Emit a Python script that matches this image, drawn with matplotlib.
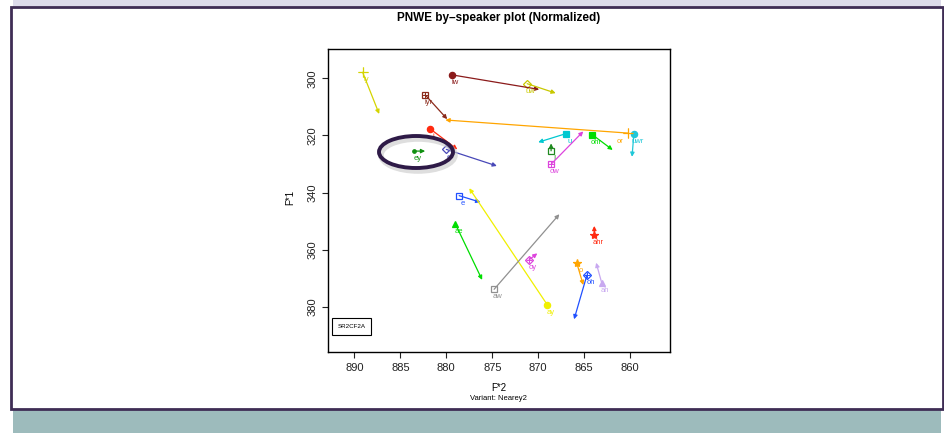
import matplotlib
matplotlib.use("Agg")
import matplotlib.pyplot as plt
from matplotlib.patches import Rectangle, Ellipse

plt.rcParams['font.family'] = ['Liberation Sans', 'DejaVu Sans']

# vowel means: start point (marker) and end point (arrow head)
vowels = ["iy", "iw", "uw", "iyr", "i", "er", "ey", "u", "ohr", "I", "ow", "uwr",
          "or", "e", "ae", "ay", "aw", "oy", "ahr", "o", "oh", "ah"]
f2_start = [889.1, 879.4, 871.2, 882.3, 881.8, 880.0, 883.5, 867.0, 864.1, 868.6, 868.6, 859.6,
            860.2, 878.6, 879.0, 869.0, 874.8, 871.0, 863.9, 865.8, 864.7, 863.1]
f1_start = [297.9, 298.8, 301.9, 305.8, 317.6, 324.9, 325.5, 319.4, 319.8, 325.4, 330.1, 319.6,
            319.2, 341.1, 351.1, 379.4, 373.9, 363.6, 354.9, 364.8, 368.9, 371.6]
f2_end = [887.3, 869.9, 868.1, 879.9, 878.8, 874.5, 882.3, 870.0, 861.9, 868.6, 865.1, 859.8,
          880.1, 876.3, 876.1, 877.5, 867.7, 870.1, 863.9, 865.1, 866.1, 863.7]
f1_end = [312.5, 303.9, 305.2, 314.3, 324.9, 330.7, 325.5, 322.4, 325.1, 322.8, 318.6, 327.5,
          314.6, 343.4, 370.6, 338.5, 347.6, 361.3, 351.7, 372.4, 384.4, 364.6]
x_ticks = [890, 885, 880, 875, 870, 865, 860]
y_ticks = [300, 320, 340, 360, 380]
speaker = "SR2CF2A"

# colour, marker, filled
style = {
    "iy": ("#d4d400", "+", True), "iw": ("#8b1a1a", "o", True), "uw": ("#c8c800", "D", False),
    "iyr": ("#8b2a1a", "s+", False), "i": ("#ff2a10", "o", True), "er": ("#4848b8", "D", False),
    "ey": ("#109010", ".", True), "u": ("#00c8d0", "s", True), "ohr": ("#00dd00", "s", True),
    "I": ("#208a20", "s", False), "ow": ("#dd44dd", "s+", False), "uwr": ("#20c8d8", "o", True),
    "or": ("#ffa500", "+", True), "e": ("#2050ff", "s", False), "ae": ("#00dd00", "^", True),
    "ay": ("#f0f000", "o", True), "aw": ("#909090", "s", False), "oy": ("#dd44dd", "D+", False),
    "ahr": ("#ff2a10", "*", True), "o": ("#ffa500", "*", True), "oh": ("#2050ff", "D+", False),
    "ah": ("#c8a8f0", "^", True),
}
label_offset = {"or": (-6, -6)}

W, H = 945, 443
fig = plt.figure(figsize=(W / 100, H / 100), dpi=100)


def fx(px):
    return px / W


def fy(py):
    return 1 - py / H


# page decoration
fig.patches.append(Rectangle((fx(13), fy(7)), fx(928), 7 / H, transform=fig.transFigure,
                             facecolor="#dddbeb", edgecolor="none", zorder=0))
fig.patches.append(Rectangle((fx(13), fy(433)), fx(928), 24 / H, transform=fig.transFigure,
                             facecolor="#9dbbbc", edgecolor="none", zorder=0))
fig.patches.append(Rectangle((fx(11), fy(409)), fx(932), 402 / H, transform=fig.transFigure,
                             facecolor="white", edgecolor="#3f2d55", lw=2, zorder=1))

ax = fig.add_axes([fx(327.7), fy(352.3), 342 / W, 303 / H])
ax.set_zorder(2)

for k, v in enumerate(vowels):
    c, m, filled = style[v]
    ax.annotate("", xy=(f2_end[k], f1_end[k]), xytext=(f2_start[k], f1_start[k]),
                arrowprops=dict(arrowstyle="-|>", color=c, lw=0.9, mutation_scale=6,
                                shrinkA=0, shrinkB=0))
    base = m[0]
    size = {"o": 4.5, "s": 4.5, "D": 4.5, "^": 4.5, "+": 7, "*": 6, ".": 5}[base]
    if filled:
        ax.plot(f2_start[k], f1_start[k], marker=base, color=c, ms=size, mew=0.9, ls="none")
    else:
        ax.plot(f2_start[k], f1_start[k], marker=base, mfc="none", mec=c, ms=size, mew=0.9, ls="none")
    if m.endswith("+"):
        ax.plot(f2_start[k], f1_start[k], marker="+", color=c, ms=size, mew=0.7, ls="none")
    ax.annotate(v, (f2_start[k], f1_start[k]), xytext=label_offset.get(v, (2.5, -5.5)),
                textcoords="offset points", ha="center", va="center", fontsize=5.5, color=c)

ax.set_xlim(892.9, 855.7)
ax.set_ylim(395.96, 289.85)
ax.set_xticks(x_ticks)
ax.set_yticks(y_ticks)
ax.tick_params(direction="out", length=4, width=0.8, labelsize=8, colors="#222222")
for lab in ax.get_yticklabels():
    lab.set_rotation(90)
    lab.set_va("center")
for s in ax.spines.values():
    s.set_linewidth(1)

fig.text(fx(498.7), fy(388), "F*2", fontsize=7, ha="center", va="center", zorder=3)
fig.text(fx(498.7), fy(399), "Variant: Nearey2", fontsize=5.5, ha="center", va="center", zorder=3)
fig.text(fx(290.5), fy(197), "F*1", fontsize=7, ha="center", va="center", rotation=90, zorder=3)
fig.text(fx(498.7), fy(18), "PNWE by\u2013speaker plot (Normalized)", fontsize=8.5,
         fontweight="bold", ha="center", va="center", zorder=3)

# speaker legend box
ax.text(0.07, 0.085, speaker, transform=ax.transAxes, fontsize=4.5, ha="center", va="center",
        bbox=dict(boxstyle="square,pad=0.9", facecolor="white", edgecolor="black", lw=0.8))

# highlight ring around ey
fig.patches.append(Ellipse((fx(418), fy(155)), 74 / W, 32 / H, transform=fig.transFigure,
                           facecolor="none", edgecolor="#c8c8c8", lw=4, alpha=0.6, zorder=5))
fig.patches.append(Ellipse((fx(416), fy(152)), 74 / W, 32 / H, transform=fig.transFigure,
                           facecolor="none", edgecolor="#2e1a47", lw=2.8, zorder=6))

fig.savefig("out.png", dpi=100)
